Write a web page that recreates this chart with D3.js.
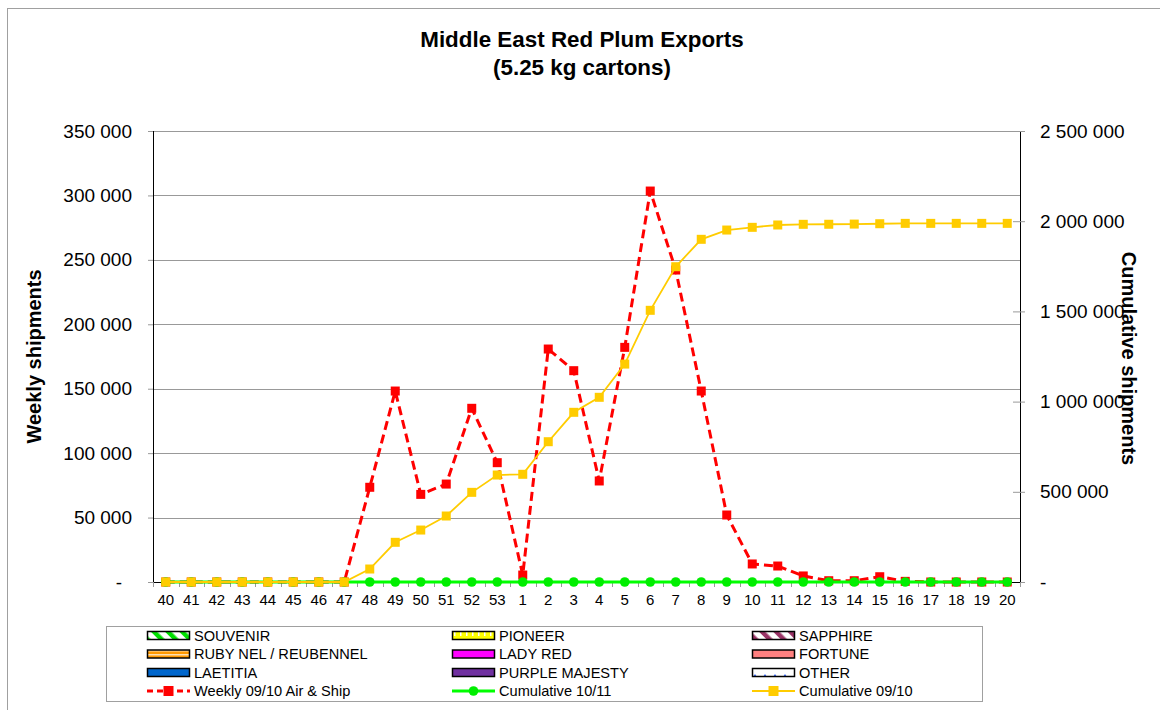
<!DOCTYPE html>
<html>
<head>
<meta charset="utf-8">
<script src="https://cdn.jsdelivr.net/npm/d3@7/dist/d3.min.js"></script>
<style>
  html, body { margin: 0; padding: 0; background: #fff; }
  svg text { font-family: "Liberation Sans", Arial, sans-serif; fill: #000; }
</style>
</head>
<body>
<svg id="chart" width="1160" height="710"></svg>
<script>
// ---- data ----
const weeks = ["40","41","42","43","44","45","46","47","48","49","50","51","52","53",
  "1","2","3","4","5","6","7","8","9","10","11","12","13","14","15","16","17","18","19","20"];
const weekly0910 = [0,0,0,0,0,0,0,0,73500,148200,68000,76000,134800,92600,
  5400,180800,164000,78400,182100,303400,242100,148200,52000,14000,12400,4700,1000,1000,4100,500,0,0,0,0];
const cum1011 = [0,0,0,0,0,0,0,0,0,0,0,0,0,0,
  0,0,0,0,0,0,0,0,0,0,0,0,0,0,0,0,0,0,0,0];
const cum0910 = [0,0,0,0,0,0,0,0,72000,220000,288000,365800,497000,593000,
  597000,777700,940600,1023800,1208000,1506000,1747700,1899600,1951000,1966000,1979000,1982700,1983000,1984000,1986000,1988000,1988000,1988000,1988000,1988000];
const leftTicks = [0,50000,100000,150000,200000,250000,300000,350000];
const rightTicks = [0,500000,1000000,1500000,2000000,2500000];
const legendNames = ["SOUVENIR","PIONEER","SAPPHIRE","RUBY NEL / REUBENNEL","LADY RED","FORTUNE",
  "LAETITIA","PURPLE MAJESTY","OTHER","Weekly 09/10 Air & Ship","Cumulative 10/11","Cumulative 09/10"];

// ---- layout ----
const svg = d3.select("#chart");
const L = 153, R = 1020, T = 131, B = 582;
const x = d3.scaleBand().domain(weeks).range([L, R]).padding(0);
const yL = d3.scaleLinear().domain([0, 350000]).range([B, T]);
const yR = d3.scaleLinear().domain([0, 2500000]).range([B, T]);
const fmt = v => v === 0 ? "-" : d3.format(",")(v).replace(/,/g, " ");
const cx = d => x(d) + x.bandwidth() / 2;

// outer border
svg.append("rect").attr("x", 7.5).attr("y", 8.5).attr("width", 1300).attr("height", 900)
  .attr("fill", "none").attr("stroke", "#a0a0a0").attr("stroke-width", 1);

// patterns
const defs = svg.append("defs");
function diag(id, color) {
  const p = defs.append("pattern").attr("id", id).attr("patternUnits", "userSpaceOnUse")
    .attr("width", 10).attr("height", 10).attr("patternTransform", "rotate(-45)");
  p.append("rect").attr("width", 10).attr("height", 10).attr("fill", "#fff");
  p.append("rect").attr("width", 4.5).attr("height", 10).attr("fill", color);
}
diag("pSouv", "#00e000");
diag("pSapph", "#993366");
{
  const p = defs.append("pattern").attr("id", "pPion").attr("patternUnits", "userSpaceOnUse")
    .attr("width", 6).attr("height", 8);
  p.append("rect").attr("width", 6).attr("height", 8).attr("fill", "#ffff00");
  p.append("rect").attr("x", 4).attr("y", 0).attr("width", 1.5).attr("height", 4).attr("fill", "#fff");
}
{
  const p = defs.append("pattern").attr("id", "pRuby").attr("patternUnits", "userSpaceOnUse")
    .attr("width", 8).attr("height", 4);
  p.append("rect").attr("width", 8).attr("height", 4).attr("fill", "#ff9900");
  p.append("rect").attr("y", 2).attr("width", 8).attr("height", 1.5).attr("fill", "#ffe0b0");
}
{
  const p = defs.append("pattern").attr("id", "pOther").attr("patternUnits", "userSpaceOnUse")
    .attr("width", 10).attr("height", 10);
  p.append("rect").attr("width", 10).attr("height", 10).attr("fill", "#fff");
  p.append("path").attr("d", "M3,7L5,4L7,7Z").attr("fill", "#3366ff");
}

// title
svg.append("text").attr("x", 582).attr("y", 47).attr("text-anchor", "middle")
  .style("font-size", "22.4px").style("font-weight", "bold").text("Middle East Red Plum Exports");
svg.append("text").attr("x", 582).attr("y", 75).attr("text-anchor", "middle")
  .style("font-size", "22.4px").style("font-weight", "bold").text("(5.25 kg cartons)");

// gridlines
svg.append("g").selectAll("line").data(leftTicks.filter(d => d > 0)).join("line")
  .attr("x1", L).attr("x2", R).attr("y1", d => Math.round(yL(d)) + 0.5).attr("y2", d => Math.round(yL(d)) + 0.5)
  .attr("stroke", "#999").attr("stroke-width", 1);

// left axis
const gL = svg.append("g").attr("transform", `translate(${L},0)`)
  .call(d3.axisLeft(yL).tickValues(leftTicks).tickFormat(fmt).tickSize(5).tickPadding(16));
gL.select(".domain").attr("stroke", "#000").attr("d", `M0.5,${T}V${B}`);
gL.selectAll(".tick line").attr("stroke", "#999");
gL.selectAll(".tick text").style("font-size", "19px").attr("fill", "#000")
  .attr("dx", d => d === 0 ? -10 : 0);

// right axis
const gR = svg.append("g").attr("transform", `translate(${R},0)`)
  .call(d3.axisRight(yR).tickValues(rightTicks).tickFormat(fmt).tickSize(5).tickPadding(15));
gR.select(".domain").attr("stroke", "#000").attr("d", `M0.5,${T}V${B}`);
gR.selectAll(".tick line").attr("stroke", "#999").attr("x1", -7);
gR.selectAll(".tick text").style("font-size", "19px").attr("fill", "#000");

// x axis
const gX = svg.append("g").attr("transform", `translate(0,${B})`)
  .call(d3.axisBottom(x).tickSize(0).tickPadding(12));
gX.select(".domain").attr("stroke", "#000").attr("d", `M${L},0.5H${R}`);
gX.selectAll(".tick text").style("font-size", "15px").attr("fill", "#000");
svg.append("g").selectAll("line").data(weeks.concat(["__end"])).join("line")
  .attr("x1", (d, i) => Math.round(L + i * x.bandwidth()) + 0.5)
  .attr("x2", (d, i) => Math.round(L + i * x.bandwidth()) + 0.5)
  .attr("y1", B).attr("y2", B + 5).attr("stroke", "#999");

// axis titles
svg.append("text").attr("transform", `translate(41,${(T + B) / 2}) rotate(-90)`)
  .attr("text-anchor", "middle").style("font-size", "20px").style("font-weight", "bold").text("Weekly shipments");
svg.append("text").attr("transform", `translate(1122,${(T + B) / 2 + 2}) rotate(90)`)
  .attr("text-anchor", "middle").style("font-size", "20px").style("font-weight", "bold").text("Cumulative shipments");

// series: weekly (red dashed)
const lineL = d3.line().x((d, i) => cx(weeks[i])).y(d => yL(d));
const lineR = d3.line().x((d, i) => cx(weeks[i])).y(d => yR(d));
svg.append("path").datum(weekly0910).attr("d", lineL).attr("fill", "none")
  .attr("stroke", "#ff0000").attr("stroke-width", 3).attr("stroke-dasharray", "9,5");
svg.append("g").selectAll("rect").data(weekly0910).join("rect")
  .attr("x", (d, i) => cx(weeks[i]) - 4.5).attr("y", d => yL(d) - 4.5)
  .attr("width", 9).attr("height", 9).attr("fill", "#ff0000");

// cumulative 10/11 (green)
svg.append("path").datum(cum1011).attr("d", lineR).attr("fill", "none")
  .attr("stroke", "#00ff00").attr("stroke-width", 3);
svg.append("g").selectAll("circle").data(cum1011).join("circle")
  .attr("cx", (d, i) => cx(weeks[i])).attr("cy", d => yR(d)).attr("r", 4.8).attr("fill", "#00ee00");

// cumulative 09/10 (gold)
svg.append("path").datum(cum0910).attr("d", lineR).attr("fill", "none")
  .attr("stroke", "#ffcc00").attr("stroke-width", 1.8);
svg.append("g").selectAll("rect").data(cum0910).join("rect")
  .attr("x", (d, i) => cx(weeks[i]) - 4.5).attr("y", d => yR(d) - 4.5)
  .attr("width", 9).attr("height", 9).attr("fill", "#ffcc00");

// legend
svg.append("rect").attr("x", 106.5).attr("y", 626.5).attr("width", 876).attr("height", 75)
  .attr("fill", "#fff").attr("stroke", "#a0a0a0");
const colSw = [147, 452, 752];
const rowY = [635.5, 654, 672.5, 691];
const fills = ["url(#pSouv)", "url(#pPion)", "url(#pSapph)", "url(#pRuby)", "#ff00ff", "#ff8080",
  "#0066cc", "#7030a0", "url(#pOther)"];
const lg = svg.append("g");
legendNames.forEach((name, i) => {
  const c = i % 3, r = Math.floor(i / 3);
  const sx = colSw[c], sy = rowY[r];
  if (i < 9) {
    lg.append("rect").attr("x", sx + 0.5).attr("y", sy - 4).attr("width", 42).attr("height", 8)
      .attr("fill", fills[i]).attr("stroke", "#000").attr("stroke-width", 1.5);
  } else if (i === 9) {
    lg.append("line").attr("x1", sx).attr("x2", sx + 43).attr("y1", sy).attr("y2", sy)
      .attr("stroke", "#ff0000").attr("stroke-width", 3).attr("stroke-dasharray", "6,4");
    lg.append("rect").attr("x", sx + 21.5 - 5).attr("y", sy - 5).attr("width", 10).attr("height", 10).attr("fill", "#ff0000");
  } else if (i === 10) {
    lg.append("line").attr("x1", sx).attr("x2", sx + 43).attr("y1", sy).attr("y2", sy)
      .attr("stroke", "#00ff00").attr("stroke-width", 3);
    lg.append("circle").attr("cx", sx + 21.5).attr("cy", sy).attr("r", 4.8).attr("fill", "#00ee00");
  } else {
    lg.append("line").attr("x1", sx).attr("x2", sx + 43).attr("y1", sy).attr("y2", sy)
      .attr("stroke", "#ffcc00").attr("stroke-width", 1.8);
    lg.append("rect").attr("x", sx + 21.5 - 5).attr("y", sy - 5).attr("width", 10).attr("height", 10).attr("fill", "#ffcc00");
  }
  lg.append("text").attr("x", sx + 47).attr("y", sy + 5).style("font-size", "14.6px").text(name);
});
</script>
</body>
</html>
